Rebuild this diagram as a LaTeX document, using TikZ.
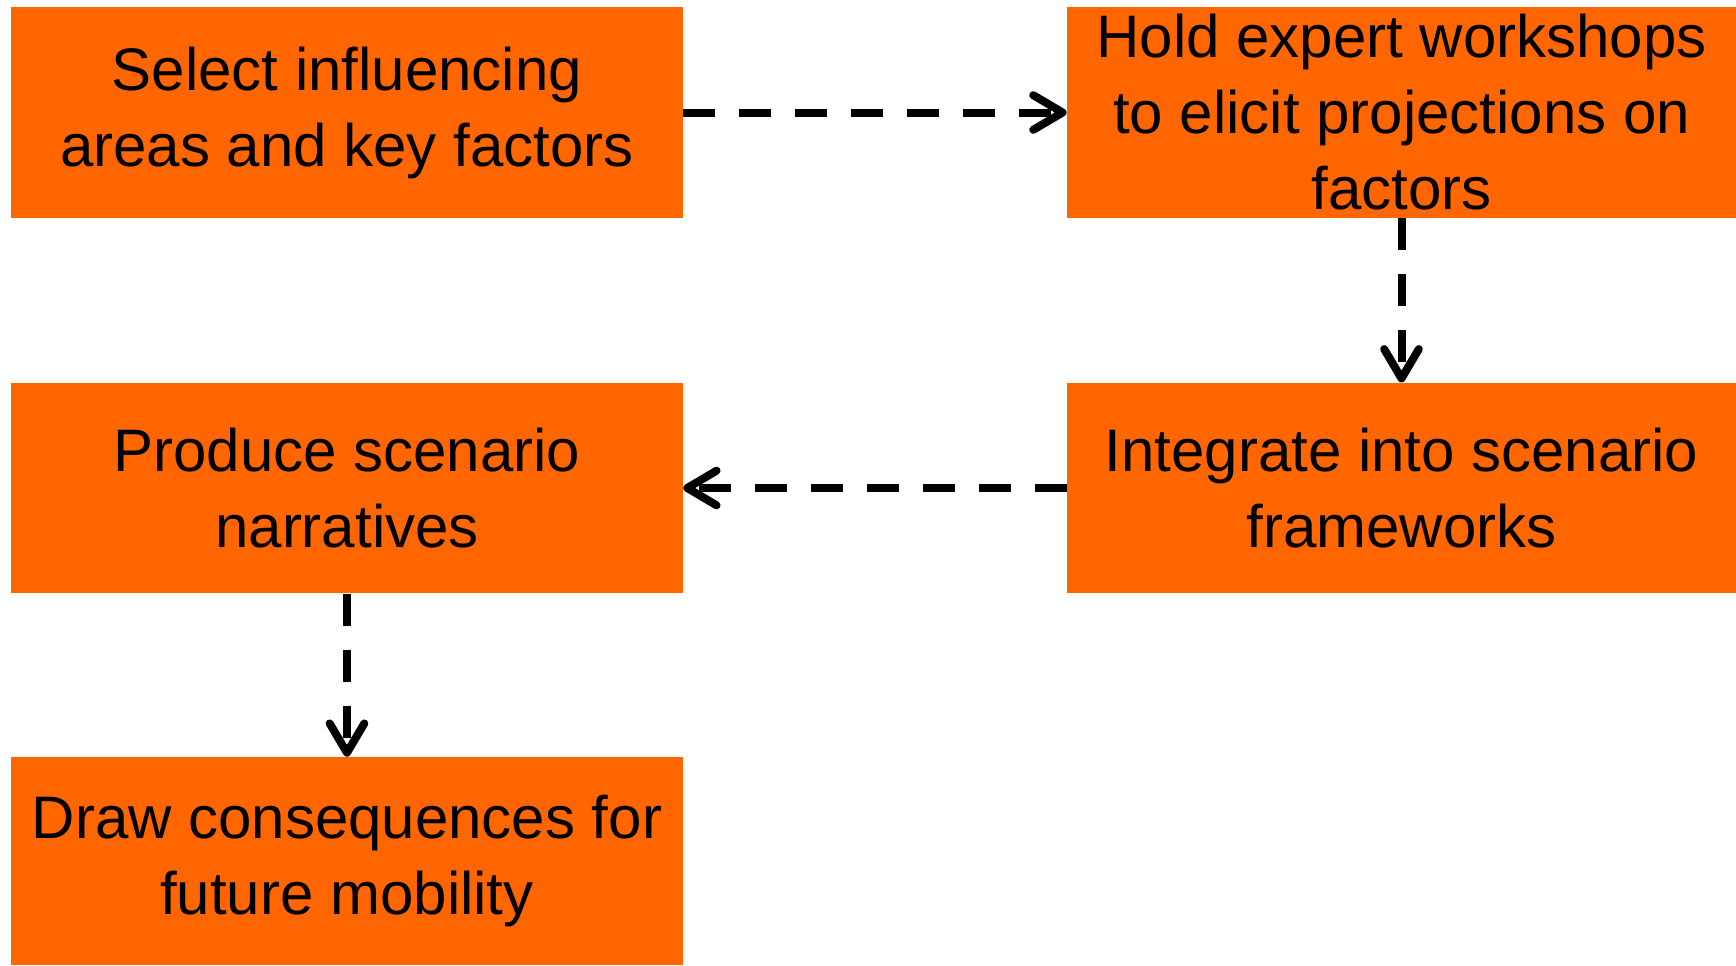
\documentclass[tikz,border=0pt]{standalone}
\usepackage{fontspec}
\setmainfont{Liberation Sans}
\usetikzlibrary{arrows.meta}
\definecolor{boxorange}{HTML}{FF6600}
\begin{document}
\begin{tikzpicture}[x=0.75pt,y=-0.75pt,
  stagebox/.style={fill=boxorange, draw=none, inner sep=0pt, align=center,
    minimum height=158pt, text=black,
    font=\fontsize{45}{57}\selectfont},
  leftbox/.style={stagebox, minimum width=504pt},
  rightbox/.style={stagebox, minimum width=502pt},
  flow/.style={line width=6pt, dash pattern=on 24pt off 18pt,
    -{Straight Barb[length=22pt,width=26pt,line cap=round,line join=round]}}]
  \useasboundingbox (0,0) rectangle (1736,965);
  \node[leftbox]  (select)    at (347,112.5)   {Select influencing\\areas and key factors};
  \node[rightbox] (workshops) at (1401.5,112.5) {Hold expert workshops\\to elicit projections on\\factors};
  \node[leftbox]  (narr)      at (347,488)      {Produce scenario\\narratives};
  \node[rightbox] (integrate) at (1401.5,488)   {Integrate into scenario\\frameworks};
  \node[leftbox, minimum height=156pt] (conseq) at (347,861) {Draw consequences for\\future mobility};
  \draw[flow] (select.east) -- (workshops.west);
  \draw[flow] (workshops.south) -- (integrate.north);
  \draw[flow] (integrate.west) -- (narr.east);
  \draw[flow] (narr.south) -- (conseq.north);
\end{tikzpicture}
\end{document}
